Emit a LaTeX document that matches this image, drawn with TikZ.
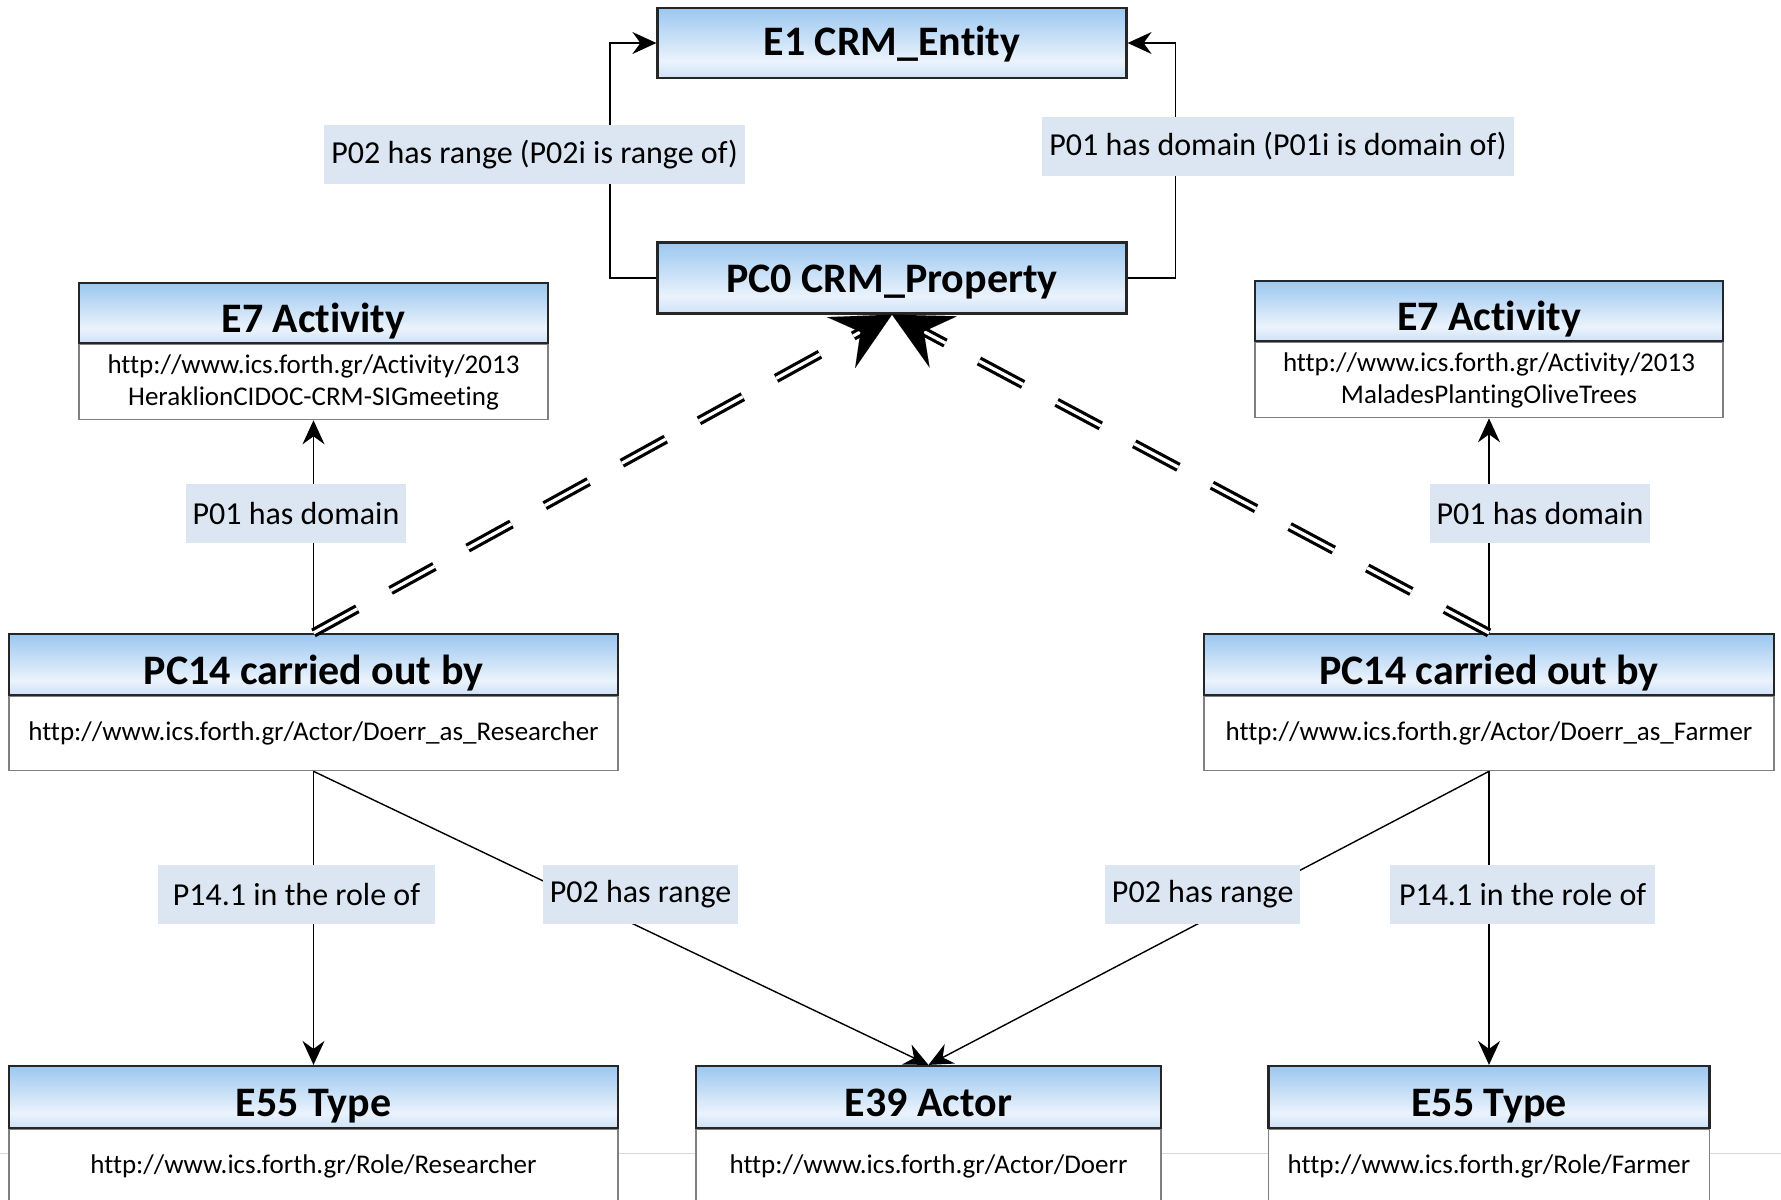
\documentclass[tikz,border=0pt]{standalone}
\usepackage{fontspec}
\setmainfont{Carlito}[Ligatures={NoCommon}]
\usetikzlibrary{positioning,arrows.meta,calc}

\definecolor{hdrtop}{RGB}{155,199,240}
\definecolor{hdrmid}{RGB}{235,243,252}
\definecolor{hdrbot}{RGB}{205,225,246}
\definecolor{lblfill}{RGB}{220,230,242}
\pgfdeclareverticalshading{hdrshade}{100bp}{color(0bp)=(hdrbot); color(25bp)=(hdrbot); color(37bp)=(hdrmid); color(75bp)=(hdrtop); color(100bp)=(hdrtop)}

\begin{document}
\begin{tikzpicture}[x=0.5pt, y=-0.5pt,
        every node/.style={font=\fontsize{13.5}{16}\selectfont},
        hdr/.style={draw=black!85, line width=1.1pt, shading=hdrshade, inner sep=0pt, text height=19.5pt, text depth=0pt, font=\fontsize{21}{25}\selectfont\bfseries},
        uri/.style={draw=black!50, line width=0.6pt, fill=white, inner sep=0pt, align=center, below=0pt of #1},
        lbl/.style={fill=lblfill, inner xsep=3.5pt, inner ysep=0pt, minimum height=29.5pt, font=\fontsize{16}{19}\selectfont},
        conn/.style={line width=0.7pt, -{Stealth[length=12pt,width=11pt,inset=4pt]}},
        isaline/.style={double, double distance=1.6pt, line width=1.6pt, dash pattern=on 25pt off 19pt, shorten >=16pt},
        isatip/.style={line width=0.01pt, -{Stealth[length=29pt,width=29pt,inset=11pt]}}]
    \useasboundingbox (0,0) rectangle (1781,1199);

    % Faint page rule
    \draw[gray!30, line width=0.5pt] (0,1153) -- (1781,1153);

    % Top classes
    \node[hdr, text height=12.8pt, minimum width=234.5pt, minimum height=35pt] (e1) at (892,43) {E1 CRM\_Entity};
    \node[hdr, text height=14.8pt, minimum width=234.5pt, minimum height=35.5pt] (pc0) at (892,278) {PC0 CRM\_Property};

    % Activities
    \node[hdr, minimum width=234.5pt, minimum height=30pt] (act1) at (313.5,313) {E7 Activity};
    \node[uri=act1, minimum width=234.5pt, minimum height=37.5pt] (act1uri) {http://www.ics.forth.gr/Activity/2013\\HeraklionCIDOC-CRM-SIGmeeting};
    \node[hdr, minimum width=234pt, minimum height=30pt] (act2) at (1489,311) {E7 Activity};
    \node[uri=act2, minimum width=234pt, minimum height=37.5pt] (act2uri) {http://www.ics.forth.gr/Activity/2013\\MaladesPlantingOliveTrees};

    % Carried out by
    \node[hdr, minimum width=304.5pt, minimum height=30.5pt] (pcl) at (313.5,664.5) {PC14 carried out by};
    \node[uri=pcl, minimum width=304.5pt, minimum height=37pt] (pclu) {http://www.ics.forth.gr/Actor/Doerr\_as\_Researcher};
    \node[hdr, minimum width=285pt, minimum height=30.5pt] (pcr) at (1489,664.5) {PC14 carried out by};
    \node[uri=pcr, minimum width=285pt, minimum height=37pt] (pcru) {http://www.ics.forth.gr/Actor/Doerr\_as\_Farmer};

    % Bottom classes
    \node[hdr, minimum width=304.5pt, minimum height=31pt] (typl) at (313.5,1097) {E55 Type};
    \node[uri=typl, minimum width=304.5pt, minimum height=37pt] (typlu) {http://www.ics.forth.gr/Role/Researcher};
    \node[hdr, minimum width=232.5pt, minimum height=31pt] (actor) at (928.5,1097) {E39 Actor};
    \node[uri=actor, minimum width=232.5pt, minimum height=37pt] (actoru) {http://www.ics.forth.gr/Actor/Doerr};
    \node[hdr, minimum width=220.5pt, minimum height=31pt] (typr) at (1489,1097) {E55 Type};
    \node[uri=typr, minimum width=220.5pt, minimum height=37pt] (typru) {http://www.ics.forth.gr/Role/Farmer};

    % Connectors
    \draw[conn] (pc0.west) -- ++(-46.6,0) |- (e1.west);
    \draw[conn] (pc0.east) -- ++(47.7,0) |- (e1.east);
    \draw[conn] (pcl.north) -- (act1uri.south);
    \draw[conn] (pcr.north) -- (act2uri.south);
    \draw[conn] (pclu.south) -- (typl.north);
    \draw[conn] (pclu.south) -- (actor.north);
    \draw[conn] (pcru.south) -- (actor.north);
    \draw[conn] (pcru.south) -- (typr.north);

    % Subproperty links
    \draw[isaline] (pcl.north) -- (pc0.south);
    \draw[isaline] (pcr.north) -- (pc0.south);
    \draw[isatip] ($(pc0.south)!18pt!(pcl.north)$) -- (pc0.south);
    \draw[isatip] ($(pc0.south)!18pt!(pcr.north)$) -- (pc0.south);

    % Property labels
    \node[lbl] (l1) at (534.5,154.5) {P02 has range (P02i is range of)};
    \node[lbl] (l2) at (1278,146.5) {P01 has domain (P01i is domain of)};
    \node[lbl] (l3) at (296,513) {P01 has domain};
    \node[lbl] (l4) at (1540,513) {P01 has domain};
    \node[lbl, inner xsep=7.5pt] (l5) at (296.5,894.5) {P14.1 in the role of};
    \node[lbl] (l6) at (640.5,894.5) {P02 has range};
    \node[lbl] (l7) at (1202.7,894.5) {P02 has range};
    \node[lbl, inner xsep=4.5pt] (l8) at (1522.6,894.5) {P14.1 in the role of};
\end{tikzpicture}
\end{document}
